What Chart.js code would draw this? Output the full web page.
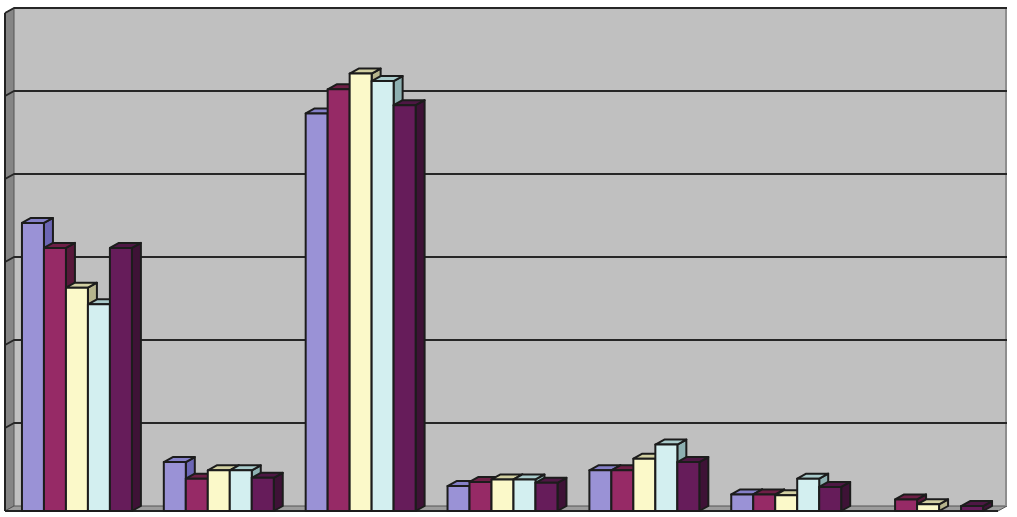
<!DOCTYPE html>
<html>
<head>
<meta charset="utf-8">
<script src="https://cdn.jsdelivr.net/npm/chart.js@4/dist/chart.umd.min.js"></script>
<style>
  html, body { margin: 0; padding: 0; background: #ffffff; }
  #wrap { width: 1017px; height: 517px; position: relative; }
</style>
</head>
<body>
<div id="wrap"><canvas id="chart"></canvas></div>
<script>
// Categories and series (axis labels are not shown)
const categories = ['1', '2', '3', '4', '5', '6', '7'];
const seriesNames = ['Series 1', 'Series 2', 'Series 3', 'Series 4', 'Series 5'];

const series1 = [34.7, 5.9, 47.9, 3.0, 4.9, 2.0, 0];
const series2 = [31.7, 3.9, 50.8, 3.5, 4.9, 2.0, 1.4];
const series3 = [26.9, 4.9, 52.7, 3.8, 6.3, 1.9, 0.8];
const series4 = [24.9, 4.9, 51.8, 3.8, 8.0, 3.9, 0];
const series5 = [31.7, 4.0, 48.9, 3.4, 5.9, 2.9, 0.6];

const yTicksMax = 60;
const yTicksStep = 10;

// Face colours per series: front, top, side
const faceColors = [
  { front: '#9a92d6', top: '#8580c8', side: '#6c66b4' },
  { front: '#962a66', top: '#6e1f46', side: '#58183a' },
  { front: '#fbf9c9', top: '#d2d0a2', side: '#b6b48c' },
  { front: '#d3eff0', top: '#aacccc', side: '#8db0b1' },
  { front: '#661c5a', top: '#4e1744', side: '#3e1236' }
];

// 3D depth offset (pixels)
const DX = 9;
const DY = 5;
const EDGE = '#1c1c1c';

function poly(ctx, pts, fill) {
  ctx.beginPath();
  ctx.moveTo(pts[0][0], pts[0][1]);
  for (let i = 1; i < pts.length; i++) ctx.lineTo(pts[i][0], pts[i][1]);
  ctx.closePath();
  ctx.fillStyle = fill;
  ctx.fill();
  ctx.stroke();
}

// Walls, floor and gridlines behind the bars
const wallsPlugin = {
  id: 'walls',
  beforeDatasetsDraw(chart) {
    const { ctx, chartArea: a, scales: { y } } = chart;
    ctx.save();
    ctx.lineJoin = 'round';

    // back wall
    ctx.fillStyle = '#c0c0c0';
    ctx.fillRect(a.left + DX, a.top - DY, a.right - a.left, a.bottom - a.top);

    // left wall
    ctx.strokeStyle = '#555555';
    ctx.lineWidth = 1;
    poly(ctx, [[a.left, a.top], [a.left + DX, a.top - DY], [a.left + DX, a.bottom - DY], [a.left, a.bottom]], '#858585');

    // floor
    poly(ctx, [[a.left, a.bottom], [a.left + DX, a.bottom - DY], [a.right + DX, a.bottom - DY], [a.right, a.bottom]], '#9c9c9c');

    // right edge of back wall
    ctx.strokeStyle = '#8e8e8e';
    ctx.lineWidth = 2;
    ctx.beginPath();
    ctx.moveTo(a.right + DX - 1, a.top - DY);
    ctx.lineTo(a.right + DX - 1, a.bottom - DY);
    ctx.stroke();

    // gridlines across left wall and back wall
    ctx.strokeStyle = '#262626';
    ctx.lineWidth = 2;
    y.ticks.forEach(t => {
      if (t.value === 0) return;
      const py = y.getPixelForValue(t.value);
      ctx.beginPath();
      ctx.moveTo(a.left, py);
      ctx.lineTo(a.left + DX, py - DY);
      ctx.lineTo(a.right + DX, py - DY);
      ctx.stroke();
    });

    // outer edges
    ctx.strokeStyle = '#222222';
    ctx.lineWidth = 2;
    ctx.beginPath();
    ctx.moveTo(a.left, a.bottom);
    ctx.lineTo(a.left, a.top);
    ctx.stroke();
    ctx.beginPath();
    ctx.moveTo(a.left, a.bottom);
    ctx.lineTo(a.right, a.bottom);
    ctx.stroke();
    ctx.restore();
  },
  // skip the flat bars, the 3D boxes are drawn below
  beforeDatasetDraw() {
    return false;
  },
  afterDatasetsDraw(chart) {
    const ctx = chart.ctx;
    ctx.save();
    ctx.strokeStyle = EDGE;
    ctx.lineWidth = 2;
    ctx.lineJoin = 'round';
    categories.forEach((c, i) => {
      chart.data.datasets.forEach((ds, d) => {
        if (!ds.data[i]) return;
        const el = chart.getDatasetMeta(d).data[i];
        const { x, y, base, width } = el.getProps(['x', 'y', 'base', 'width'], true);
        const l = x - width / 2 + 1;
        const r = x + width / 2 + 1;
        const col = faceColors[d];
        // side face
        poly(ctx, [[r, y], [r + DX, y - DY], [r + DX, base - DY], [r, base]], col.side);
        // top face
        poly(ctx, [[l, y], [l + DX, y - DY], [r + DX, y - DY], [r, y]], col.top);
        // front face
        poly(ctx, [[l, y], [r, y], [r, base], [l, base]], col.front);
      });
    });
    ctx.restore();
  }
};

const allSeries = [series1, series2, series3, series4, series5];

new Chart(document.getElementById('chart'), {
  type: 'bar',
  plugins: [wallsPlugin],
  data: {
    labels: categories,
    datasets: allSeries.map((values, d) => ({
      label: seriesNames[d],
      data: values,
      backgroundColor: faceColors[d].front,
      categoryPercentage: 0.775,
      barPercentage: 1
    }))
  },
  options: {
    responsive: true,
    maintainAspectRatio: false,
    animation: false,
    layout: {
      padding: { left: 5, top: 13, right: 19, bottom: 6 }
    },
    scales: {
      x: { display: false },
      y: {
        display: false,
        min: 0,
        max: yTicksMax,
        ticks: { stepSize: yTicksStep }
      }
    },
    plugins: {
      legend: { display: false },
      tooltip: { enabled: false }
    }
  }
});
</script>
</body>
</html>
